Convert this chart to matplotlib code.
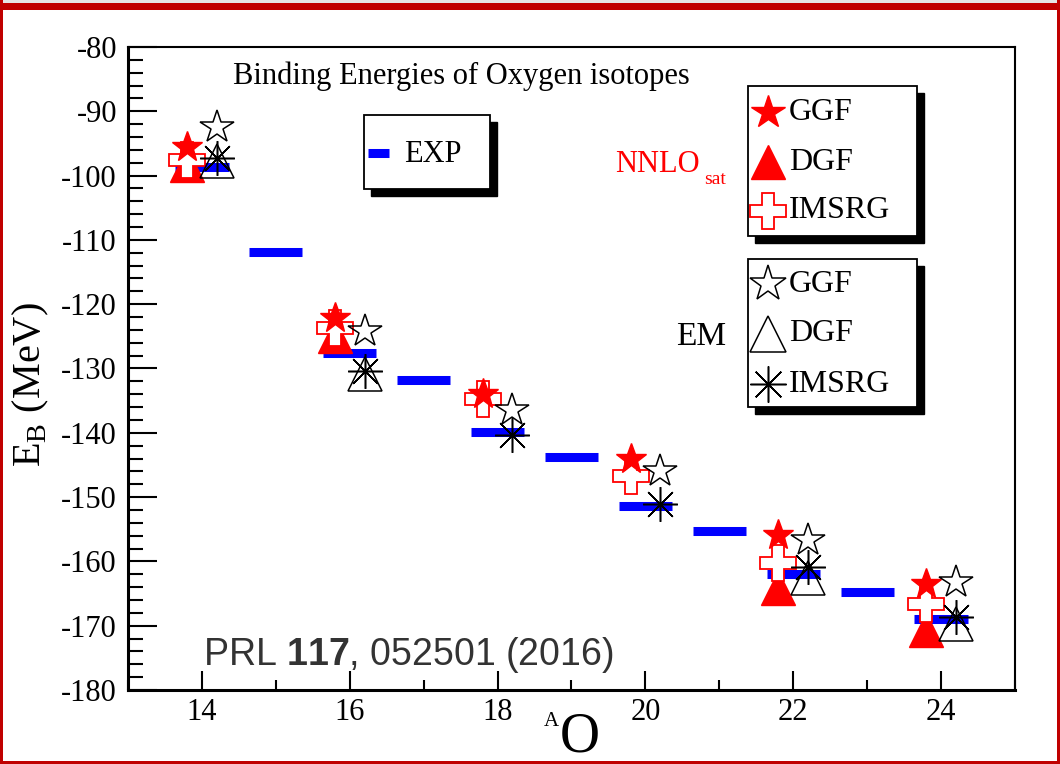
import numpy as np
import matplotlib
matplotlib.use("Agg")
import matplotlib.pyplot as plt
from matplotlib.patches import Rectangle
from matplotlib.lines import Line2D
from matplotlib.ticker import MultipleLocator

plt.rcParams["font.family"] = ["Liberation Serif", "DejaVu Serif"]
plt.rcParams["mathtext.fontset"] = "custom"
plt.rcParams["mathtext.rm"] = "Liberation Serif"
plt.rcParams["mathtext.bf"] = "Liberation Sans:bold"
plt.rcParams["axes.unicode_minus"] = False

# Experimental binding energies (MeV)
A_exp = [14, 15, 16, 17, 18, 19, 20, 21, 22, 23, 24]
E_exp = [-98.7, -111.9, -127.6, -131.8, -139.8, -143.8, -151.4, -155.2, -162.0, -164.8, -169.0]

# Theory, even isotopes
A_th = [14, 16, 18, 20, 22, 24]
sat_ggf = [-95.5, -122.2, -134.0, -144.0, -155.9, -163.5]
sat_dgf = [-98.3, -124.9, np.nan, np.nan, -164.1, -170.6]
sat_imsrg = [-97.6, -123.7, -134.8, -146.7, -160.3, -166.7]
em_ggf = [-92.4, -124.2, -136.4, -146.0, -156.7, -163.2]
em_dgf = [-97.8, -130.9, np.nan, np.nan, -162.6, -169.7]
em_imsrg = [-97.2, -130.4, -140.4, -151.0, -160.9, -168.7]

W, H = 1060, 764
fig = plt.figure(figsize=(W / 100, H / 100), dpi=100)
fig.patch.set_facecolor("white")


def fx(x):
    return x / W


def fy(y):
    return 1 - y / H


ax = fig.add_axes([fx(128), fy(690), fx(1015) - fx(128), fy(47) - fy(690)])
ax.set_xlim(13, 25)
ax.set_ylim(-180, -80)

a_exp = np.array(A_exp, dtype=float)
ax.hlines(E_exp, a_exp - 0.36, a_exp + 0.36, colors="#0000ff", linewidth=6.5,
          capstyle="butt", zorder=2)

a_th = np.array(A_th, dtype=float)
dx = 0.2
# NNLOsat
ax.plot(a_th - dx, sat_dgf, ls="none", marker="^", ms=25, mfc="#ff0000", mec="#ff0000", zorder=3)
ax.plot(a_th - dx, sat_imsrg, ls="none", marker="P", ms=26, mfc="white", mec="#ff0000", mew=1.3, zorder=4)
ax.plot(a_th - dx, sat_ggf, ls="none", marker="*", ms=23, mfc="#ff0000", mec="#ff0000", zorder=5)
# EM
ax.plot(a_th + dx, em_ggf, ls="none", marker="*", ms=25, mfc="none", mec="black", mew=1.1, zorder=6)
ax.plot(a_th + dx, em_dgf, ls="none", marker="^", ms=25, mfc="none", mec="black", mew=1.1, zorder=6)
ax.plot(a_th + dx, em_imsrg, ls="none", marker=(8, 2, 0), ms=25, mec="black", mew=1.1, zorder=7)
ax.plot(a_th + dx, em_imsrg, ls="none", marker="o", ms=3, mfc="black", mec="black", zorder=7)

# axes styling
for side in ["left", "bottom"]:
    ax.spines[side].set_linewidth(2.2)
for side in ["top", "right"]:
    ax.spines[side].set_linewidth(1.5)
ax.xaxis.set_major_locator(MultipleLocator(2))
ax.xaxis.set_minor_locator(MultipleLocator(1))
ax.yaxis.set_major_locator(MultipleLocator(10))
ax.yaxis.set_minor_locator(MultipleLocator(2))
ax.tick_params(axis="y", which="major", direction="in", length=21, width=1.5, labelsize=22, pad=8)
ax.tick_params(axis="y", which="minor", direction="in", length=11, width=1.5)
ax.tick_params(axis="x", which="major", direction="in", length=14, width=1.5, labelsize=22, pad=6)
ax.tick_params(axis="x", which="minor", direction="in", length=7, width=1.5)
ax.tick_params(top=False, right=False, which="both")

# texts
fig.text(fx(233), fy(76), "Binding Energies of Oxygen isotopes", fontsize=22,
         ha="left", va="center")
fig.text(fx(31), fy(385), r"E$_{\mathrm{B}}$ (MeV)", fontsize=29, rotation=90,
         ha="center", va="center")
fig.text(fx(551), fy(722), "A", fontsize=15, ha="center", va="center")
fig.text(fx(580), fy(737), "O", fontsize=40, ha="center", va="center")
fig.text(fx(203), fy(655), r"PRL $\mathbf{117}$, 052501 (2016)", fontsize=27,
         family="Liberation Sans", color="#333333", ha="left", va="center")
fig.text(fx(700), fy(165), "NNLO", fontsize=22, color="#ff0000", ha="right", va="center")
fig.text(fx(704), fy(180), "sat", fontsize=14, color="#ff0000", ha="left", va="center")
fig.text(fx(726), fy(337), "EM", fontsize=24, ha="right", va="center")


def legend_box(x0, y0, x1, y1, off=7):
    fig.add_artist(Rectangle((fx(x0 + off), fy(y1 + off)), fx(x1 - x0), fy(y0) - fy(y1),
                             transform=fig.transFigure, facecolor="black",
                             edgecolor="black", zorder=10))
    fig.add_artist(Rectangle((fx(x0), fy(y1)), fx(x1 - x0), fy(y0) - fy(y1),
                             transform=fig.transFigure, facecolor="white",
                             edgecolor="black", linewidth=1.3, zorder=11))


def legend_marker(x, y, **kw):
    fig.add_artist(Line2D([fx(x)], [fy(y)], transform=fig.transFigure, ls="none",
                          zorder=12, **kw))


legend_box(364, 115, 490, 189)
fig.add_artist(Line2D([fx(368), fx(389)], [fy(152.5), fy(152.5)], transform=fig.transFigure,
                      color="#0000ff", linewidth=6.5, solid_capstyle="butt", zorder=12))
fig.text(fx(404), fy(154), "EXP", fontsize=22, ha="left", va="center", zorder=12)

legend_box(748, 86, 917, 236)
legend_marker(768, 112, marker="*", ms=25, mfc="#ff0000", mec="#ff0000")
legend_marker(768, 162, marker="^", ms=25, mfc="#ff0000", mec="#ff0000")
legend_marker(768, 211, marker="P", ms=26, mfc="white", mec="#ff0000", mew=1.3)
legend_box(748, 259, 917, 407)
legend_marker(768, 284, marker="*", ms=27, mfc="none", mec="black", mew=1.1)
legend_marker(768, 334, marker="^", ms=26, mfc="none", mec="black", mew=1.1)
legend_marker(768, 384, marker=(8, 2, 0), ms=26, mec="black", mew=1.1)
legend_marker(768, 384, marker="o", ms=3, mfc="black", mec="black")
for y, s in [(113, "GGF"), (162, "DGF"), (211, "IMSRG"), (284, "GGF"), (334, "DGF"), (385, "IMSRG")]:
    fig.text(fx(789), fy(y), s, fontsize=23, ha="left", va="center", zorder=12)

# outer frame
red = "#c00000"
fig.add_artist(Rectangle((0, fy(3)), 1, fy(0) - fy(3), transform=fig.transFigure,
                         facecolor="#e6e6e6", edgecolor="none", zorder=20))
fig.add_artist(Rectangle((0, fy(10)), 1, fy(3) - fy(10), transform=fig.transFigure,
                         facecolor=red, edgecolor="none", zorder=20))
fig.add_artist(Rectangle((0, 0), fx(3), 1, transform=fig.transFigure,
                         facecolor=red, edgecolor="none", zorder=20))
fig.add_artist(Rectangle((fx(1057), 0), fx(3), 1, transform=fig.transFigure,
                         facecolor=red, edgecolor="none", zorder=20))
fig.add_artist(Rectangle((0, 0), 1, fy(761), transform=fig.transFigure,
                         facecolor=red, edgecolor="none", zorder=20))

fig.savefig("out.png", dpi=100)
